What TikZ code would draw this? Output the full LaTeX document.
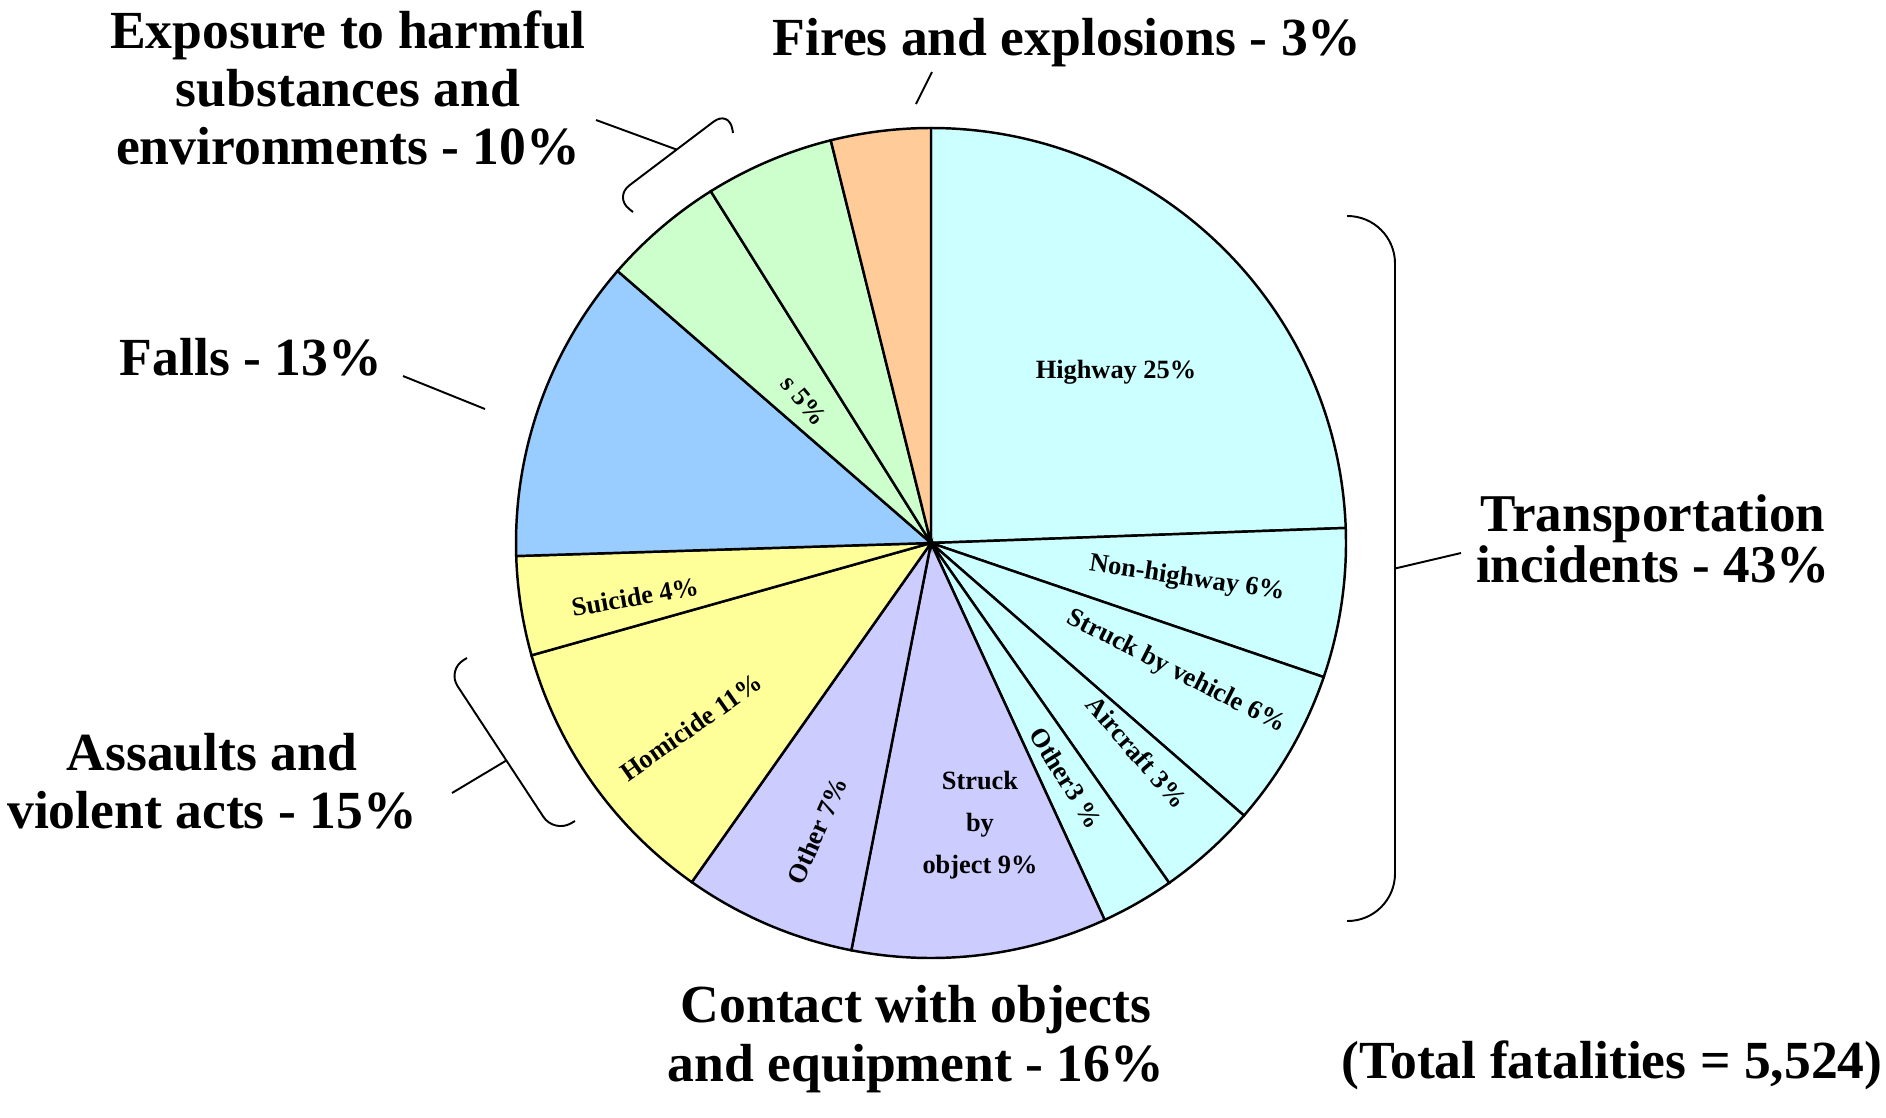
\documentclass[tikz,border=0pt]{standalone}
\usepackage{fontspec}
\setmainfont{Liberation Serif}
\usepackage{tikz}
\usetikzlibrary{calc}
\definecolor{transcol}{HTML}{CCFFFF}
\definecolor{contcol}{HTML}{CCCCFF}
\definecolor{assaultcol}{HTML}{FFFF99}
\definecolor{fallcol}{HTML}{99CCFF}
\definecolor{exposcol}{HTML}{CCFFCC}
\definecolor{firecol}{HTML}{FFCC99}

\begin{document}
\begin{tikzpicture}[x=0.01cm,y=0.01cm,
		slice/.style={draw=black,line width=0.7pt},
		bigtxt/.style={font=\fontsize{15.25}{16.6}\selectfont\bfseries,align=center,inner sep=0pt},
		smalltxt/.style={font=\fontsize{7.5}{11.9}\selectfont\bfseries,align=center,inner sep=0pt},
		leader/.style={line width=0.55pt},
		brace/.style={line width=0.55pt,rounded corners=5.5pt}]
			\useasboundingbox (-931,-574) rectangle (955,543);
			\coordinate (O) at (0,0);
			\foreach \a/\b/\c in {90/2.08/transcol, 2.08/-18.85/transcol, -18.85/-41.05/transcol,
				-41.05/-54.98/transcol, -54.98/-65.26/transcol, -65.26/-101.07/contcol,
				-101.07/-125.2/contcol, -125.2/-164.3/assaultcol, -164.3/-178.2/assaultcol,
				-178.2/-220.95/fallcol, -220.95/-237.95/exposcol, -237.95/-256.02/exposcol,
				-256.02/-270/firecol}
				\filldraw[slice,fill=\c] (O) -- (\a:415) arc[start angle=\a,end angle=\b,radius=415] -- cycle;

			\node[smalltxt] (highway) at (185,171) {Highway 25\%};
			\node[smalltxt,rotate=-8.5] (nonhighway) at (256,-36) {Non-highway 6\%};
			\node[smalltxt,rotate=-27] (vehicle) at (245,-129) {Struck by vehicle 6\%};
			\node[smalltxt,rotate=-49] (aircraft) at (206,-209) {Aircraft 3\%};
			\node[smalltxt,rotate=-58] (othertrans) at (135,-235) {Other3 \%};
			\node[smalltxt] (object) at (49,-282) {Struck\\by\\object 9\%};
			\node[smalltxt,rotate=66] (othercont) at (-114,-288) {Other 7\%};
			\node[smalltxt,rotate=35] (homicide) at (-240,-184) {Homicide 11\%};
			\node[smalltxt,rotate=10] (suicide) at (-296,-54) {Suicide 4\%};
			\node[smalltxt,rotate=-50] (substs) at (-127,142) {s 5\%};

			\node[bigtxt] (fires) at (136,500) {Fires and explosions - 3\%};
			\node[bigtxt] (exposure) at (-583,455) {Exposure to harmful\\substances and\\environments - 10\%};
			\node[bigtxt] (falls) at (-680,186) {Falls - 13\%};
			\node[bigtxt] (assaults) at (-719,-238) {Assaults and\\violent acts - 15\%};
			\node[bigtxt] (contact) at (-15,-496) {Contact with objects\\and equipment - 16\%};
			\node[bigtxt,font=\fontsize{15.1}{12.2}\selectfont\bfseries] (transport) at (722,4) {Transportation\\incidents - 43\%};
			\node[bigtxt] (total) at (681,-522) {(Total fatalities = 5,524)};

			\coordinate (fireA) at (1,471);
			\coordinate (fireB) at (-15,439);
			\draw[leader] (fireA) -- (fireB);
			\coordinate (fallA) at (-528,167);
			\coordinate (fallB) at (-446,134);
			\draw[leader] (fallA) -- (fallB);

			\coordinate (expoP1) at (-298,331);
			\coordinate (expoC1) at (-317,346);
			\coordinate (expoC2) at (-202,433);
			\coordinate (expoP2) at (-198,410);
			\draw[brace] (expoP1) -- (expoC1) -- (expoC2) -- (expoP2);
			\coordinate (expoL) at (-335,423);
			\draw[leader] (expoL) -- ($(expoC1)!0.545!(expoC2)$);

			\coordinate (assP1) at (-464,-115);
			\coordinate (assC1) at (-484,-127);
			\coordinate (assC2) at (-377,-290);
			\coordinate (assP2) at (-356,-278);
			\draw[brace] (assP1) -- (assC1) -- (assC2) -- (assP2);
			\coordinate (assL) at (-479,-250);
			\draw[leader] (assL) -- ($(assC1)!0.555!(assC2)$);

			\coordinate (transP1) at (416,327);
			\coordinate (transC1) at (464,327);
			\coordinate (transC2) at (464,-378);
			\coordinate (transP2) at (416,-378);
			\draw[brace,rounded corners=13.5pt] (transP1) -- (transC1) -- (transC2) -- (transP2);
			\coordinate (transL) at (530,-10);
			\draw[leader] ($(transC1)!0.5!(transC2)$) -- (transL);
		\end{tikzpicture}
\end{document}
